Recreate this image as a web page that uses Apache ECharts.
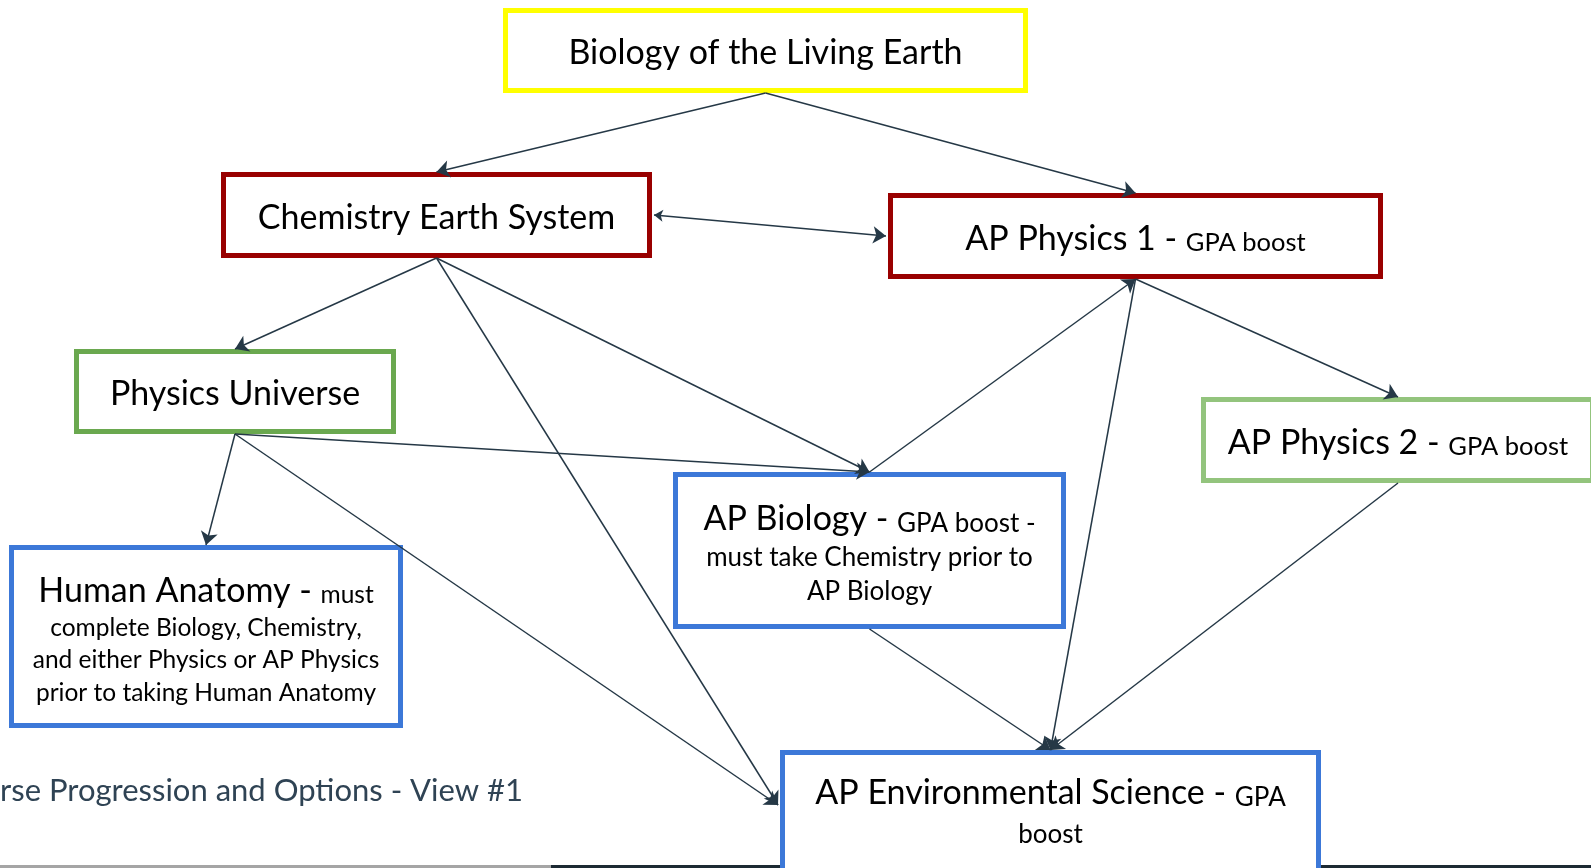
<!DOCTYPE html>
<html>
<head>
<meta charset="utf-8">
<script src="https://cdn.jsdelivr.net/npm/echarts@6/dist/echarts.min.js"></script>
<style>
html,body{margin:0;padding:0;background:#ffffff;}
#chart{width:1591px;height:868px;}
</style>
</head>
<body>
<div id="chart"></div>
<script>
// ---------- DATA ----------
const nodeIds = ['bio', 'chem', 'ap1', 'phys', 'ap2', 'apbio', 'anat', 'apes'];
const nodeTitles = [
  'Biology of the Living Earth',
  'Chemistry Earth System',
  'AP Physics 1 - ',
  'Physics Universe',
  'AP Physics 2 - ',
  'AP Biology - ',
  'Human Anatomy - ',
  'AP Environmental Science - '
];
const nodeNotes = [
  '',
  '',
  'GPA boost',
  '',
  'GPA boost',
  'GPA boost -\nmust take Chemistry prior to\nAP Biology',
  'must\ncomplete Biology, Chemistry,\nand either Physics or AP Physics\nprior to taking Human Anatomy',
  'GPA\nboost'
];
// prerequisite links: [from, to, twoWay]
const links = [
  ['bio', 'chem', false],
  ['bio', 'ap1', false],
  ['chem', 'ap1', true],
  ['chem', 'phys', false],
  ['chem', 'apes', false],
  ['chem', 'apbio', false],
  ['phys', 'anat', false],
  ['phys', 'apbio', false],
  ['phys', 'apes', false],
  ['apbio', 'ap1', false],
  ['ap1', 'ap2', false],
  ['ap1', 'apes', false],
  ['apbio', 'apes', false],
  ['ap2', 'apes', false]
];
const subtitle = 'Course Progression and Options - View #1';

// ---------- LAYOUT & STYLE (diagram coordinates) ----------
const nodeCenterX = [765.5, 436.5, 1135.5, 235, 1398, 869.5, 206, 1050.5];
const nodeCenterY = [50.5, 215, 236, 391.5, 440, 550.5, 636.5, 815];
const nodeW = [525, 431, 495, 322, 394, 393, 394, 541];
const nodeH = [85, 86, 86, 85, 86, 157, 183, 130];
const textOffsetY = [0, 0, 0, 0, 0, 0, 0, -6];
const sidePortOffsetY = [0, 0, 0, 0, 0, 0, 0, -10];
const nodeColor = ['#ffff00', '#990000', '#990000', '#6aa84f', '#93c47d', '#3c78d8', '#3c78d8', '#3c78d8'];
const noteFontSize = [25, 25, 25.5, 25, 25.5, 26, 24.5, 26];
const noteLineHeight = [34, 34, 34, 34, 34, 34, 32.5, 37];
// ports used by each link: [fromSide, toSide]
const linkPorts = [
  ['bottom', 'top'], ['bottom', 'top'], ['right', 'left'], ['bottom', 'top'],
  ['bottom', 'left'], ['bottom', 'top'], ['bottom', 'top'], ['bottom', 'top'],
  ['bottom', 'left'], ['top', 'bottom'], ['bottom', 'top'], ['bottom', 'top'],
  ['bottom', 'top'], ['bottom', 'top']
];

const FONT = 'Lato, "Open Sans", sans-serif';
const BIG = 34, BIG_LH = 40;
const BORDER = 5;

function port(id, side) {
  const i = nodeIds.indexOf(id);
  const cx = nodeCenterX[i], cy = nodeCenterY[i], hw = nodeW[i] / 2, hh = nodeH[i] / 2;
  if (side === 'top') return [cx, cy - hh];
  if (side === 'bottom') return [cx, cy + hh];
  if (side === 'left') return [cx - hw - 2, cy + sidePortOffsetY[i]];
  return [cx + hw + 2, cy + sidePortOffsetY[i]];
}

const oneWay = [], twoWay = [];
links.forEach((l, k) => {
  const item = { coords: [port(l[0], linkPorts[k][0]), port(l[1], linkPorts[k][1])] };
  (l[2] ? twoWay : oneWay).push(item);
});

function richText(i) {
  const t = '{b|' + nodeTitles[i] + '}';
  if (!nodeNotes[i]) return t;
  const parts = nodeNotes[i].split('\n');
  return t + '{s|' + parts[0] + '}' + parts.slice(1).map(p => '\n{s|' + p + '}').join('');
}

const boxData = nodeIds.map((id, i) => [nodeCenterX[i], nodeCenterY[i], nodeW[i], nodeH[i], i]);

const chart = echarts.init(document.getElementById('chart'), null, { renderer: 'canvas' });
chart.setOption({
  backgroundColor: '#ffffff',
  animation: false,
  grid: { left: 0, right: 0, top: 0, bottom: 0 },
  xAxis: { type: 'value', min: 0, max: 1591, show: false },
  yAxis: { type: 'value', min: 0, max: 868, inverse: true, show: false },
  series: [
    {
      type: 'lines',
      coordinateSystem: 'cartesian2d',
      symbol: ['none', 'arrow'],
      symbolSize: [9, 13],
      lineStyle: { color: '#253846', width: 1.5, opacity: 1, curveness: 0 },
      data: oneWay,
      z: 3
    },
    {
      type: 'lines',
      coordinateSystem: 'cartesian2d',
      symbol: ['arrow', 'arrow'],
      symbolSize: [9, 13],
      lineStyle: { color: '#253846', width: 1.5, opacity: 1, curveness: 0 },
      data: twoWay,
      z: 3
    },
    {
      type: 'custom',
      coordinateSystem: 'cartesian2d',
      data: boxData,
      z: 2,
      renderItem: function (params, api) {
        const c = api.coord([api.value(0), api.value(1)]);
        const s = api.size([api.value(2), api.value(3)]);
        const i = api.value(4);
        return {
          type: 'group',
          children: [
            {
              type: 'rect',
              shape: { x: c[0] - s[0] / 2 + BORDER / 2, y: c[1] - s[1] / 2 + BORDER / 2, width: s[0] - BORDER, height: s[1] - BORDER },
              style: { fill: '#ffffff', stroke: nodeColor[i], lineWidth: BORDER }
            },
            {
              type: 'text',
              style: {
                text: richText(i),
                x: c[0], y: c[1] + textOffsetY[i],
                align: 'center', verticalAlign: 'middle',
                fill: '#000000',
                rich: {
                  b: { fontSize: BIG, fontFamily: FONT, lineHeight: BIG_LH, verticalAlign: 'bottom', fill: '#000000' },
                  s: { fontSize: noteFontSize[i], fontFamily: FONT, lineHeight: noteLineHeight[i], verticalAlign: 'bottom', fill: '#000000' }
                }
              }
            }
          ]
        };
      }
    }
  ],
  graphic: [
    {
      type: 'text',
      x: 523, y: 791,
      style: { text: subtitle, align: 'right', verticalAlign: 'middle', fontSize: 31, fontFamily: FONT, fill: '#2f4354' }
    },
    { type: 'rect', shape: { x: 0, y: 865, width: 551, height: 3 }, style: { fill: '#a5a5a5' } },
    { type: 'rect', shape: { x: 551, y: 865, width: 1040, height: 3 }, style: { fill: '#1c2a33' } }
  ]
});
</script>
</body>
</html>
